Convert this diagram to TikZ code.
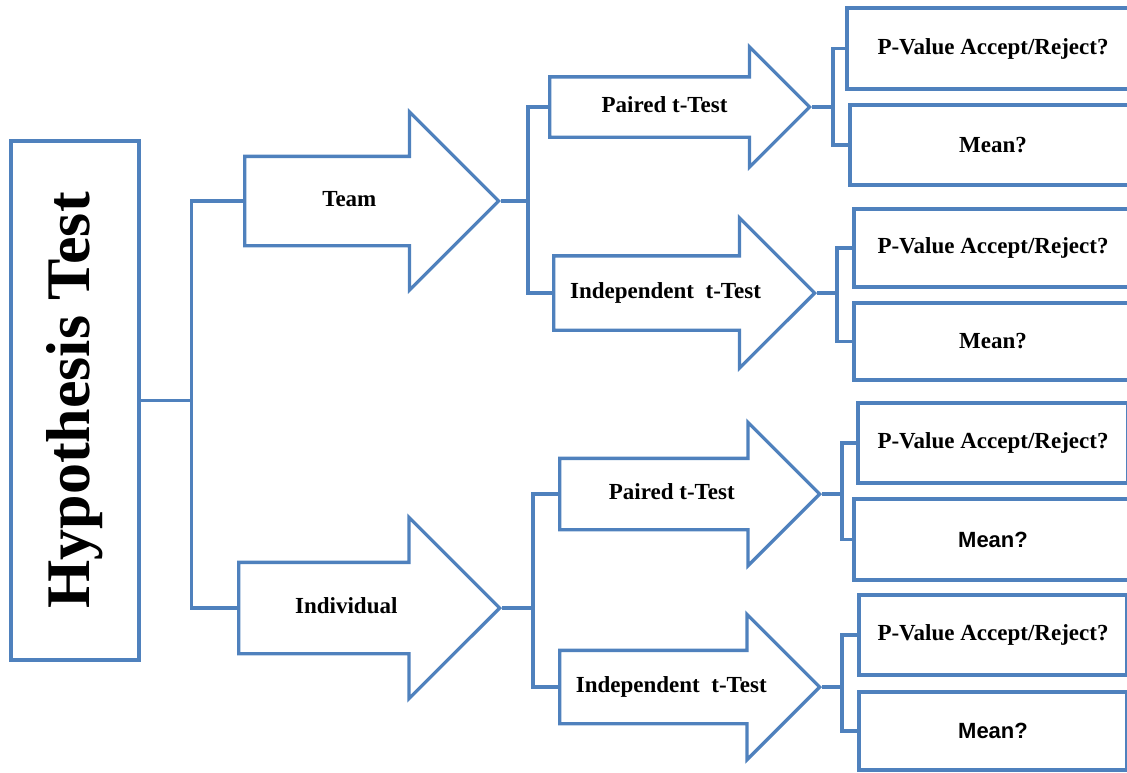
\documentclass[tikz,border=0pt]{standalone}
\usepackage{graphicx}
\usepackage{fontspec}
\setmainfont{Liberation Serif}
\setsansfont{Liberation Sans}
\usetikzlibrary{shapes.arrows}

\definecolor{lineblue}{RGB}{79,129,189}

\begin{document}
\begin{tikzpicture}[
    x=1pt, y=-1pt,
    txt/.style={font=\bfseries\fontsize{23}{27}\selectfont},
    stepbox/.style 2 args={draw=lineblue, line width=3.3pt, fill=white, minimum width=#1, minimum height=#2, inner sep=0pt, txt},
    bigarrow/.style n args={3}{single arrow, draw=lineblue, line width=3.3pt, fill=white, anchor=tail, minimum height=#1, inner xsep=0pt, inner ysep=#2, single arrow head extend=#3, text height=16pt, text depth=5pt, txt},
    link/.style={draw=lineblue, line width=3.3pt}
]
\clip (0,0) rectangle (1127,772);

% root box
\node[stepbox={128}{519}, font=\bfseries\fontsize{62}{70}\selectfont] (hyp) at (75,400.5) {\rotatebox{90}{Hypothesis Test}};

% first level
\node[bigarrow={254}{32.5}{44.5}] (team) at (243,201) {Team};
\node[bigarrow={261}{33.5}{45}] (indiv) at (237,608) {Individual};

% second level
\node[bigarrow={260}{18}{30}] (paired1) at (548,107) {Paired t-Test};
\node[bigarrow={261}{25}{38}] (indep1) at (552,293) {Independent~~t-Test};
\node[bigarrow={260}{23.5}{36}] (paired2) at (558,494) {Paired t-Test};
\node[bigarrow={260}{24.5}{36}] (indep2) at (558,687) {Independent~~t-Test};

% result boxes
\node[stepbox={292}{81}] (pv1) at (993,48.5) {P-Value Accept/Reject?};
\node[stepbox={286}{80}] (mean1) at (993,145) {Mean?};
\node[stepbox={278}{78}] (pv2) at (993,248) {P-Value Accept/Reject?};
\node[stepbox={278}{77}] (mean2) at (993,341.5) {Mean?};
\node[stepbox={270}{80}] (pv3) at (993,443) {P-Value Accept/Reject?};
\node[stepbox={278}{81}, font=\sffamily\bfseries\fontsize{22}{26}\selectfont] (mean3) at (993,539.5) {Mean?};
\node[stepbox={268}{80}] (pv4) at (993,635) {P-Value Accept/Reject?};
\node[stepbox={268}{78}, font=\sffamily\bfseries\fontsize{22}{26}\selectfont] (mean4) at (993,731) {Mean?};

% connectors
\draw[link] (hyp.east) -- ++(51,0) coordinate (trunk);
\draw[link] (trunk) |- (team.tail);
\draw[link] (trunk) |- (indiv.tail);

\draw[link] (team.tip) -- ++(27,0) coordinate (fteam);
\draw[link] (fteam) |- (paired1.tail);
\draw[link] (fteam) |- (indep1.tail);
\draw[link] (indiv.tip) -- ++(31,0) coordinate (findiv);
\draw[link] (findiv) |- (paired2.tail);
\draw[link] (findiv) |- (indep2.tail);

\draw[link] (paired1.tip) -- ++(21,0) coordinate (g1);
\draw[link] (g1) |- (pv1.west);
\draw[link] (g1) |- (mean1.west);
\draw[link] (indep1.tip) -- ++(20,0) coordinate (g2);
\draw[link] (g2) |- (pv2.west);
\draw[link] (g2) |- (mean2.west);
\draw[link] (paired2.tip) -- ++(20,0) coordinate (g3);
\draw[link] (g3) |- (pv3.west);
\draw[link] (g3) |- (mean3.west);
\draw[link] (indep2.tip) -- ++(20,0) coordinate (g4);
\draw[link] (g4) |- (pv4.west);
\draw[link] (g4) |- (mean4.west);
\end{tikzpicture}
\end{document}
